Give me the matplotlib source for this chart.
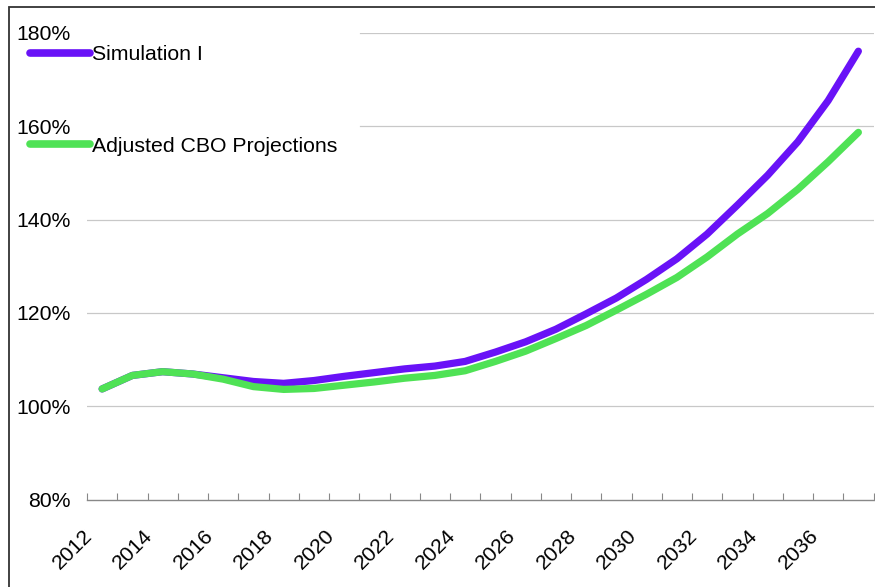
import matplotlib
matplotlib.use("Agg")
import matplotlib.pyplot as plt
from matplotlib.patches import Rectangle
from matplotlib.transforms import ScaledTranslation

plt.rcParams['font.family'] = ['Liberation Sans', 'DejaVu Sans']

years = list(range(2012, 2038))
simulation = [103.7, 106.6, 107.4, 106.9, 106.1, 105.3, 104.9, 105.5, 106.4, 107.2,
              108.0, 108.6, 109.6, 111.6, 113.8, 116.5, 119.8, 123.2, 127.2, 131.6,
              136.9, 143.1, 149.5, 156.7, 165.5, 176.1]
adjusted_cbo = [103.7, 106.6, 107.4, 106.9, 105.8, 104.2, 103.6, 103.8, 104.5, 105.2,
                106.0, 106.6, 107.6, 109.6, 111.8, 114.5, 117.3, 120.6, 124.0, 127.6,
                132.0, 136.9, 141.3, 146.5, 152.4, 158.7]
yticks = [80, 100, 120, 140, 160, 180]

fs = 15.3

fig = plt.figure(figsize=(8.75, 5.87), dpi=100)
ax = fig.add_axes([87 / 875, 1 - 499.5 / 587, (873.5 - 87) / 875, (499.5 - 33) / 587])

x = list(range(len(years)))
ax.plot(x, simulation, color='#6912F7', lw=5.2, solid_capstyle='round',
        solid_joinstyle='round', label='Simulation I', zorder=3)
ax.plot(x, adjusted_cbo, color='#4FE255', lw=5.2, solid_capstyle='round',
        solid_joinstyle='round', label='Adjusted CBO Projections', zorder=3)

ax.set_xlim(-0.5, len(years) - 0.5)
ax.set_ylim(80, 180)

# gridlines (the top two are hidden behind the legend on the left)
for v in yticks[1:]:
    xmin = 0.347 if v >= 160 else 0
    ax.axhline(v, xmin=xmin, xmax=1, color='#c8c8c8', lw=0.9, zorder=1)

ax.set_yticks(yticks)
ax.set_yticklabels([f'{v}%' for v in yticks])
ax.tick_params(axis='y', length=0, pad=12, labelsize=fs)

# tick marks between categories, labels at every other category
ax.set_xticks([i - 0.5 for i in range(len(years) + 1)])
ax.set_xticklabels([])
ax.tick_params(axis='x', which='major', direction='in', length=5, color='#888888')
ax.set_xticks(x[::2], minor=True)
ax.set_xticklabels([str(y) for y in years[::2]], minor=True)
ax.tick_params(axis='x', which='minor', length=0, pad=24, labelsize=fs)
offset = ScaledTranslation(-13 / 100, 0, fig.dpi_scale_trans)
for lab in ax.get_xticklabels(minor=True):
    lab.set_rotation(45)
    lab.set_ha('right')
    lab.set_va('center')
    lab.set_rotation_mode('anchor')
    lab.set_transform(lab.get_transform() + offset)

for s in ['top', 'right', 'left']:
    ax.spines[s].set_visible(False)
ax.spines['bottom'].set_color('#888888')
ax.spines['bottom'].set_linewidth(1.0)

leg = fig.legend(loc='upper left', bbox_to_anchor=(30 / 875, 1 - 45 / 587), frameon=False,
                 fontsize=fs, handlelength=2.8, handletextpad=0.1,
                 labelspacing=3.42, borderaxespad=0, borderpad=0)
for h in leg.get_lines():
    h.set_linewidth(5.5)
    h.set_solid_capstyle('round')

# outer frame (only left and top edges visible)
fig.patches.append(Rectangle((9 / 875, -0.1), 1.2, 1 - 7 / 587 + 0.1, transform=fig.transFigure,
                             fill=False, edgecolor='#333333', lw=1.3, zorder=10))

fig.savefig('out.png', dpi=100)
